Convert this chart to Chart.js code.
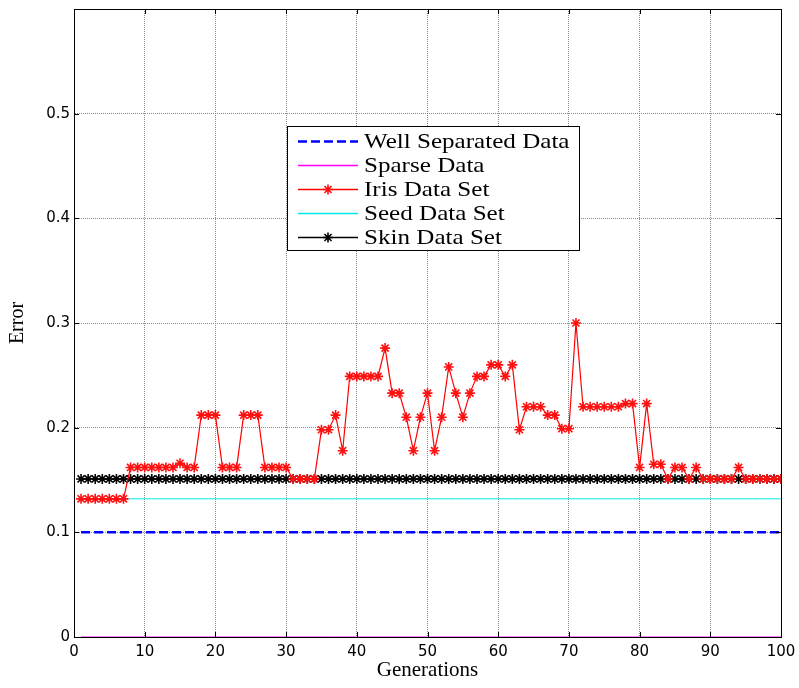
<!DOCTYPE html>
<html>
<head>
<meta charset="utf-8">
<script src="https://cdn.jsdelivr.net/npm/chart.js@4/dist/chart.umd.min.js"></script>
<style>
    html, body { margin: 0; padding: 0; background: #fff; }
    #wrap { position: relative; width: 799px; height: 688px; }
</style>
</head>
<body>
<div id="wrap"><canvas id="errorChart" width="799" height="688"></canvas></div>
<script>
// generation index on the x axis
const generations = Array.from({ length: 100 }, (_, i) => i + 1);

const wellSeparated = [
    0.1, 0.1, 0.1, 0.1, 0.1, 0.1, 0.1, 0.1, 0.1, 0.1,
    0.1, 0.1, 0.1, 0.1, 0.1, 0.1, 0.1, 0.1, 0.1, 0.1,
    0.1, 0.1, 0.1, 0.1, 0.1, 0.1, 0.1, 0.1, 0.1, 0.1,
    0.1, 0.1, 0.1, 0.1, 0.1, 0.1, 0.1, 0.1, 0.1, 0.1,
    0.1, 0.1, 0.1, 0.1, 0.1, 0.1, 0.1, 0.1, 0.1, 0.1,
    0.1, 0.1, 0.1, 0.1, 0.1, 0.1, 0.1, 0.1, 0.1, 0.1,
    0.1, 0.1, 0.1, 0.1, 0.1, 0.1, 0.1, 0.1, 0.1, 0.1,
    0.1, 0.1, 0.1, 0.1, 0.1, 0.1, 0.1, 0.1, 0.1, 0.1,
    0.1, 0.1, 0.1, 0.1, 0.1, 0.1, 0.1, 0.1, 0.1, 0.1,
    0.1, 0.1, 0.1, 0.1, 0.1, 0.1, 0.1, 0.1, 0.1, 0.1
];

const sparseData = [
    0, 0, 0, 0, 0, 0, 0, 0, 0, 0,
    0, 0, 0, 0, 0, 0, 0, 0, 0, 0,
    0, 0, 0, 0, 0, 0, 0, 0, 0, 0,
    0, 0, 0, 0, 0, 0, 0, 0, 0, 0,
    0, 0, 0, 0, 0, 0, 0, 0, 0, 0,
    0, 0, 0, 0, 0, 0, 0, 0, 0, 0,
    0, 0, 0, 0, 0, 0, 0, 0, 0, 0,
    0, 0, 0, 0, 0, 0, 0, 0, 0, 0,
    0, 0, 0, 0, 0, 0, 0, 0, 0, 0,
    0, 0, 0, 0, 0, 0, 0, 0, 0, 0
];

const irisData = [
    0.132, 0.132, 0.132, 0.132, 0.132, 0.132, 0.132, 0.162, 0.162, 0.162,
    0.162, 0.162, 0.162, 0.162, 0.166, 0.162, 0.162, 0.212, 0.212, 0.212,
    0.162, 0.162, 0.162, 0.212, 0.212, 0.212, 0.162, 0.162, 0.162, 0.162,
    0.151, 0.151, 0.151, 0.151, 0.198, 0.198, 0.212, 0.178, 0.249, 0.249,
    0.249, 0.249, 0.249, 0.276, 0.233, 0.233, 0.210, 0.178, 0.210, 0.233,
    0.178, 0.210, 0.258, 0.233, 0.210, 0.233, 0.249, 0.249, 0.260, 0.260,
    0.249, 0.260, 0.198, 0.220, 0.220, 0.220, 0.212, 0.212, 0.199, 0.199,
    0.300, 0.220, 0.220, 0.220, 0.220, 0.220, 0.220, 0.223, 0.223, 0.162,
    0.223, 0.165, 0.165, 0.151, 0.162, 0.162, 0.151, 0.162, 0.151, 0.151,
    0.151, 0.151, 0.151, 0.162, 0.151, 0.151, 0.151, 0.151, 0.151, 0.151
];

const seedData = [
    0.132, 0.132, 0.132, 0.132, 0.132, 0.132, 0.132, 0.132, 0.132, 0.132,
    0.132, 0.132, 0.132, 0.132, 0.132, 0.132, 0.132, 0.132, 0.132, 0.132,
    0.132, 0.132, 0.132, 0.132, 0.132, 0.132, 0.132, 0.132, 0.132, 0.132,
    0.132, 0.132, 0.132, 0.132, 0.132, 0.132, 0.132, 0.132, 0.132, 0.132,
    0.132, 0.132, 0.132, 0.132, 0.132, 0.132, 0.132, 0.132, 0.132, 0.132,
    0.132, 0.132, 0.132, 0.132, 0.132, 0.132, 0.132, 0.132, 0.132, 0.132,
    0.132, 0.132, 0.132, 0.132, 0.132, 0.132, 0.132, 0.132, 0.132, 0.132,
    0.132, 0.132, 0.132, 0.132, 0.132, 0.132, 0.132, 0.132, 0.132, 0.132,
    0.132, 0.132, 0.132, 0.132, 0.132, 0.132, 0.132, 0.132, 0.132, 0.132,
    0.132, 0.132, 0.132, 0.132, 0.132, 0.132, 0.132, 0.132, 0.132, 0.132
];

const skinData = [
    0.151, 0.151, 0.151, 0.151, 0.151, 0.151, 0.151, 0.151, 0.151, 0.151,
    0.151, 0.151, 0.151, 0.151, 0.151, 0.151, 0.151, 0.151, 0.151, 0.151,
    0.151, 0.151, 0.151, 0.151, 0.151, 0.151, 0.151, 0.151, 0.151, 0.151,
    0.151, 0.151, 0.151, 0.151, 0.151, 0.151, 0.151, 0.151, 0.151, 0.151,
    0.151, 0.151, 0.151, 0.151, 0.151, 0.151, 0.151, 0.151, 0.151, 0.151,
    0.151, 0.151, 0.151, 0.151, 0.151, 0.151, 0.151, 0.151, 0.151, 0.151,
    0.151, 0.151, 0.151, 0.151, 0.151, 0.151, 0.151, 0.151, 0.151, 0.151,
    0.151, 0.151, 0.151, 0.151, 0.151, 0.151, 0.151, 0.151, 0.151, 0.151,
    0.151, 0.151, 0.151, 0.151, 0.151, 0.151, 0.151, 0.151, 0.151, 0.151,
    0.151, 0.151, 0.151, 0.151, 0.151, 0.151, 0.151, 0.151, 0.151, 0.151
];

const seriesNames = ['Well Separated Data', 'Sparse Data', 'Iris Data Set', 'Seed Data Set', 'Skin Data Set'];

// box round the plot, inward tick marks (matlab style) and the legend box
const matlabFrame = {
    id: 'matlabFrame',
    afterDraw(chart) {
        const ctx = chart.ctx;
        const area = chart.chartArea;
        const xs = chart.scales.x;
        const ys = chart.scales.y;
        ctx.save();
        ctx.strokeStyle = '#000';
        ctx.lineWidth = 1;
        ctx.strokeRect(Math.round(area.left) + 0.5, Math.round(area.top) + 0.5,
            Math.round(area.right - area.left), Math.round(area.bottom - area.top));

        ctx.beginPath();
        xs.ticks.forEach(t => {
            const px = Math.round(xs.getPixelForValue(t.value)) + 0.5;
            ctx.moveTo(px, area.bottom); ctx.lineTo(px, area.bottom - 5);
            ctx.moveTo(px, area.top); ctx.lineTo(px, area.top + 5);
        });
        ys.ticks.forEach(t => {
            const py = Math.round(ys.getPixelForValue(t.value)) + 0.5;
            ctx.moveTo(area.left, py); ctx.lineTo(area.left + 5, py);
            ctx.moveTo(area.right, py); ctx.lineTo(area.right - 5, py);
        });
        ctx.stroke();

        // legend
        const box = { left: 287, top: 126, width: 292, height: 124 };
        ctx.fillStyle = '#fff';
        ctx.fillRect(box.left, box.top, box.width, box.height);
        ctx.strokeRect(box.left + 0.5, box.top + 0.5, box.width, box.height);

        ctx.font = '22px "Liberation Serif", "Times New Roman", serif';
        ctx.textBaseline = 'middle';
        ctx.textAlign = 'left';
        chart.data.datasets.forEach((ds, i) => {
            const y = Math.round(box.top + 14.5 + i * 24.2) + 0.5;
            ctx.save();
            ctx.strokeStyle = ds.borderColor;
            ctx.lineWidth = Math.max(ds.borderWidth, 1.5);
            ctx.setLineDash(ds.borderDash || []);
            ctx.beginPath();
            ctx.moveTo(298, y);
            ctx.lineTo(358, y);
            ctx.stroke();
            ctx.restore();
            if (ds.pointRadius > 0) {
                ctx.save();
                ctx.strokeStyle = ds.pointBorderColor;
                ctx.fillStyle = ds.pointBackgroundColor;
                ctx.lineWidth = ds.pointBorderWidth;
                Chart.helpers.drawPoint(ctx, {
                    pointStyle: ds.pointStyle,
                    radius: ds.pointRadius,
                    borderWidth: ds.pointBorderWidth
                }, 328, y);
                ctx.restore();
            }
            // the original legend type is a wide times face, stretch it a bit
            ctx.save();
            ctx.translate(364, y + 1);
            ctx.scale(1.14, 1);
            ctx.fillStyle = '#000';
            ctx.fillText(ds.label, 0, 0);
            ctx.restore();
        });
        ctx.restore();
    }
};

// stop the axes from reserving extra room for their end labels
const noEdgePadding = (axis) => {
    axis.paddingTop = 0;
    axis.paddingBottom = 0;
    axis.paddingLeft = 0;
    axis.paddingRight = 0;
};

const ctx = document.getElementById('errorChart').getContext('2d');
window.errorChart = new Chart(ctx, {
    type: 'line',
    data: {
        labels: generations,
        datasets: [
            {
                label: seriesNames[0],
                data: wellSeparated,
                borderColor: '#0000ff',
                borderWidth: 2.5,
                borderDash: [9, 4],
                pointRadius: 0,
                order: 5
            },
            {
                label: seriesNames[1],
                data: sparseData,
                borderColor: '#ff00ff',
                borderWidth: 1,
                pointRadius: 0,
                clip: 4,
                order: 1
            },
            {
                label: seriesNames[2],
                data: irisData,
                borderColor: '#ff0000',
                borderWidth: 1.2,
                pointStyle: 'star',
                pointRadius: 5,
                pointBorderColor: '#ff1010',
                pointBorderWidth: 1.6,
                pointBackgroundColor: '#ff0000',
                order: 2
            },
            {
                label: seriesNames[3],
                data: seedData,
                borderColor: '#00e8e8',
                borderWidth: 1,
                pointRadius: 0,
                order: 4
            },
            {
                label: seriesNames[4],
                data: skinData,
                borderColor: '#000000',
                borderWidth: 1.2,
                pointStyle: 'star',
                pointRadius: 5,
                pointBorderColor: '#000000',
                pointBorderWidth: 1.6,
                pointBackgroundColor: '#000000',
                order: 3
            }
        ]
    },
    options: {
        responsive: false,
        animation: false,
        layout: { padding: { top: 9, right: 18, bottom: 0, left: 0 } },
        plugins: {
            legend: { display: false },
            tooltip: { enabled: false },
            title: { display: false }
        },
        scales: {
            x: {
                type: 'linear',
                min: 0,
                max: 100,
                afterFit: (axis) => { axis.height = 51; noEdgePadding(axis); },
                ticks: {
                    stepSize: 10,
                    padding: 6,
                    color: '#000',
                    font: { family: '"DejaVu Sans", sans-serif', size: 15 }
                },
                grid: { color: '#8a8a8a', lineWidth: 1, drawTicks: false },
                border: { color: '#000', width: 1, dash: [1, 1] },
                title: {
                    display: true,
                    text: 'Generations',
                    color: '#000',
                    padding: { top: 0, bottom: 5 },
                    font: { family: '"Liberation Serif", "Times New Roman", serif', size: 21 }
                }
            },
            y: {
                min: 0,
                max: 0.6,
                afterFit: (axis) => { axis.width = 74; noEdgePadding(axis); },
                ticks: {
                    stepSize: 0.1,
                    padding: 4,
                    color: '#000',
                    font: { family: '"DejaVu Sans", sans-serif', size: 15 },
                    callback: (v) => (v === 0 ? '0' : (v > 0.55 ? '' : v.toFixed(1)))
                },
                grid: { color: '#8a8a8a', lineWidth: 1, drawTicks: false },
                border: { color: '#000', width: 1, dash: [1, 1] },
                title: {
                    display: true,
                    text: 'Error',
                    color: '#000',
                    padding: { top: 6, bottom: 0 },
                    font: { family: '"Liberation Serif", "Times New Roman", serif', size: 20 }
                }
            }
        }
    },
    plugins: [matlabFrame]
});
</script>
</body>
</html>
